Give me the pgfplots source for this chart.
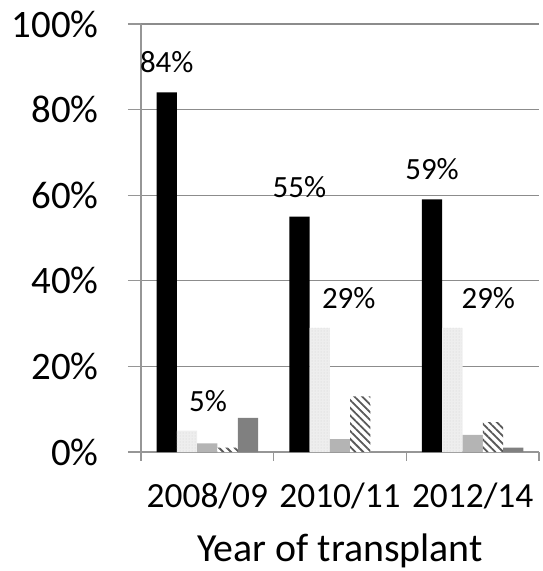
\documentclass[border=0pt]{standalone}
\usepackage{pgfplots}
\pgfplotsset{compat=1.18}
\usepackage{pgfplotstable}
\usetikzlibrary{patterns,patterns.meta}
\usepackage{fontspec}
\setmainfont{Carlito}
\definecolor{axgray}{RGB}{150,150,150}
\definecolor{gridgray}{RGB}{140,140,140}
\definecolor{dotfill}{RGB}{238,238,238}
\definecolor{lgray}{RGB}{180,180,180}
\definecolor{dgray}{RGB}{128,128,128}

\pgfplotstableread{
x s1 s2 s3 s4 s5 d1 d2
0 84 5 2 1 8 0 21
1 55 29 3 13 0 0 29
2 59 29 4 7 1 0 36
}\data

\begin{document}
\begin{tikzpicture}
\useasboundingbox (0,0) rectangle (543bp,571bp);
\begin{axis}[
  at={(141bp,119bp)}, anchor=south west,
  scale only axis, width=398bp, height=428bp,
  xmin=-0.5, xmax=2.5, ymin=0, ymax=100,
  ybar=0pt, bar width=20.3bp,
  axis x line*=bottom, axis y line*=left,
  axis line style={draw=axgray, line width=1.3bp, -},
  ymajorgrids, grid style={draw=gridgray, line width=1.2bp},
  ytick={0,20,...,100},
  yticklabel={\pgfmathprintnumber{\tick}\%},
  xtick={0,1,2},
  xticklabels={2008/09,2010/11,2012/14},
  tick align=outside,
  major tick length=13bp,
  tick style={draw=axgray, line width=1.3bp},
  xtick style={draw=none},
  extra x ticks={-0.5,0.5,1.5,2.5},
  extra x tick labels={},
  extra x tick style={grid=none, major tick length=9bp, xtick style={draw=axgray}},
  /pgf/number format/assume math mode=true,
  tick label style={text=black},
  yticklabel style={font=\fontsize{39}{44}\selectfont, anchor=east, xshift=-26bp},
  xticklabel style={font=\fontsize{35.5}{40}\selectfont, anchor=base, yshift=-43bp},
  xlabel={Year of transplant},
  xlabel style={font=\fontsize{40}{44}\selectfont, at={(axis description cs:0.5,0)}, anchor=base, yshift=-109bp},
  clip=false,
]
\addplot[fill=black, draw=none,
  nodes near coords={\pgfmathprintnumber{\pgfplotspointmeta}\%},
  every node near coord/.append style={font=\fontsize{31}{34}\selectfont, text=black, anchor=base, yshift=19.5bp},
] table[x=x, y=s1] {\data};
\addplot[fill=dotfill, draw=none, postaction={pattern={Dots[radius=0.5bp, distance=3bp]}, pattern color=black!18},
  visualization depends on={\thisrow{d2} \as \dxx},
  nodes near coords={\pgfmathprintnumber{\pgfplotspointmeta}\%},
  every node near coord/.append style={font=\fontsize{31}{34}\selectfont, text=black, anchor=base, yshift=19.5bp, xshift=\dxx bp},
] table[x=x, y=s2] {\data};
\addplot[fill=lgray, draw=none] table[x=x, y=s3] {\data};
\addplot[fill=white, draw=none, postaction={pattern={Lines[angle=-45, distance=5.5bp, line width=1.8bp]}, pattern color=black!65}] table[x=x, y=s4] {\data};
\addplot[fill=dgray, draw=none] table[x=x, y=s5] {\data};
\end{axis}
\end{tikzpicture}
\end{document}
